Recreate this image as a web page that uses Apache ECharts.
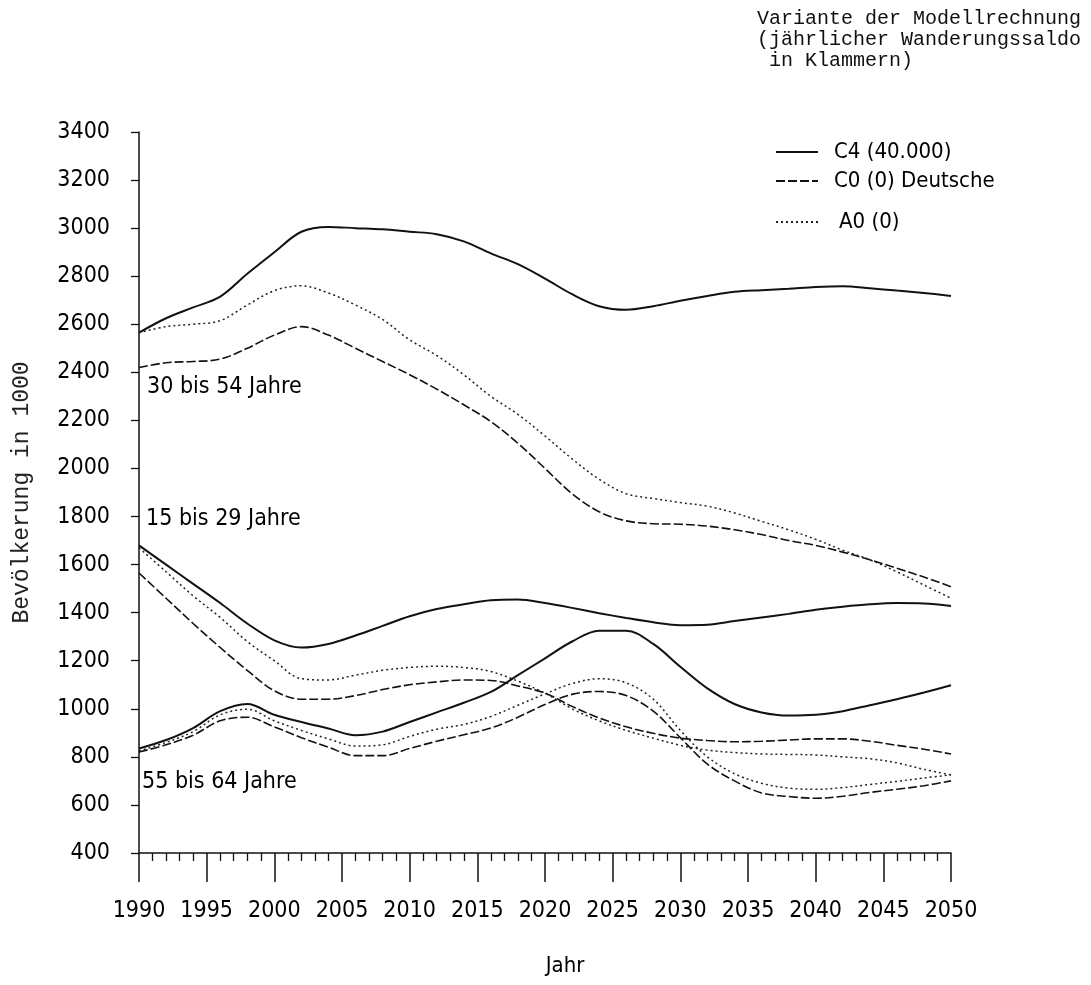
<!DOCTYPE html>
<html>
<head>
<meta charset="utf-8">
<script src="https://cdn.jsdelivr.net/npm/echarts@6/dist/echarts.min.js"></script>
<style>html,body{margin:0;padding:0;background:#fff;}#c{width:1091px;height:985px;}</style>
</head>
<body>
<div id="c"></div>
<script>
const years = [1990,1992,1994,1996,1998,2000,2002,2004,2006,2008,2010,2012,2014,2016,2018,2020,2022,2024,2026,2028,2030,2032,2034,2036,2038,2040,2042,2044,2046,2048,2050];
const yTicks = [400,600,800,1000,1200,1400,1600,1800,2000,2200,2400,2600,2800,3000,3200,3400];
const variants = ['C4 (40.000)', 'C0 (0) Deutsche', 'A0 (0)'];
const groups = ['30 bis 54 Jahre', '15 bis 29 Jahre', '55 bis 64 Jahre'];

// 30 bis 54 Jahre
const a30_C4 = [2565,2625,2670,2715,2810,2900,2985,3005,3000,2995,2985,2975,2945,2895,2850,2790,2725,2675,2660,2675,2698,2718,2735,2742,2748,2755,2758,2750,2740,2730,2718];
const a30_C0 = [2420,2440,2445,2455,2500,2555,2590,2555,2500,2445,2390,2330,2265,2195,2105,2000,1895,1820,1782,1770,1768,1760,1745,1725,1700,1680,1652,1620,1585,1548,1508];
const a30_A0 = [2565,2590,2600,2615,2680,2740,2760,2730,2680,2620,2535,2470,2390,2300,2225,2135,2040,1955,1895,1875,1858,1843,1815,1780,1745,1705,1660,1620,1570,1515,1460];
// 15 bis 29 Jahre
const a15_C4 = [1680,1600,1520,1440,1355,1285,1255,1270,1305,1345,1385,1415,1435,1452,1455,1440,1420,1398,1378,1360,1348,1350,1365,1380,1395,1412,1425,1435,1440,1438,1428];
const a15_C0 = [1565,1460,1355,1255,1160,1075,1040,1040,1055,1080,1100,1112,1120,1118,1095,1065,1010,962,925,898,878,868,863,865,870,875,875,865,848,832,812];
const a15_A0 = [1670,1570,1470,1380,1280,1200,1125,1120,1140,1160,1172,1177,1172,1155,1115,1065,1000,950,910,878,848,828,818,812,810,808,800,792,775,748,725];
// 55 bis 64 Jahre
const a55_C4 = [835,870,920,990,1020,975,945,918,890,905,945,985,1025,1070,1140,1210,1280,1325,1325,1270,1175,1085,1020,985,972,975,990,1015,1040,1068,1098];
const a55_C0 = [820,850,890,950,965,925,880,840,805,805,835,865,892,920,965,1018,1060,1072,1055,990,880,770,700,650,635,628,636,652,665,680,700];
const a55_A0 = [825,860,905,975,998,950,910,875,845,850,885,915,935,968,1015,1062,1105,1125,1108,1040,910,800,730,690,670,665,672,685,698,712,725];

const lineStyles = {
  'C4 (40.000)': {color:'#111', width:2, type:'solid'},
  'C0 (0) Deutsche': {color:'#111', width:1.6, type:[9,3]},
  'A0 (0)': {color:'#222', width:1.5, type:[2,3]}
};
function mk(name, vals){
  return {
    name: name, type:'line', smooth:0.35, symbol:'none', showSymbol:false,
    lineStyle: lineStyles[name], itemStyle:{color:'#111'},
    data: years.map((y,i)=>[y, vals[i]])
  };
}
const narrow = '"DejaVu Sans Condensed","Liberation Sans Narrow",sans-serif';
const mono = '"Liberation Mono","DejaVu Sans Mono",monospace';
const legendBase = {left:775, padding:0, itemWidth:42, itemHeight:14,
  itemStyle:{opacity:0, borderWidth:0}, textStyle:{fontFamily:narrow, fontSize:22, color:'#000', padding:[0,0,0,11]}};
const chart = echarts.init(document.getElementById('c'));
chart.setOption({
  animation:false,
  backgroundColor:'#fff',
  title:{
    text:'Variante der Modellrechnung\n(jährlicher Wanderungssaldo\n in Klammern)',
    left:752, top:3,
    textStyle:{fontFamily:mono, fontSize:20, fontWeight:'normal', color:'#111', lineHeight:21}
  },
  legend:[
    Object.assign({}, legendBase, {data:[variants[0]], top:141}),
    Object.assign({}, legendBase, {data:[variants[1]], top:170}),
    Object.assign({}, legendBase, {data:[variants[2]], top:211, textStyle:{fontFamily:narrow, fontSize:22, color:'#000', padding:[0,0,0,16]}})
  ],
  grid:{left:139, right:140, top:132, bottom:132},
  xAxis:{
    type:'value', min:1990, max:2050, interval:5,
    name:'Jahr', nameLocation:'middle', nameGap:102,
    nameTextStyle:{fontFamily:narrow, fontSize:22, color:'#000', padding:[0,0,0,40]},
    axisLine:{lineStyle:{color:'#111', width:1.5}},
    axisTick:{length:29, lineStyle:{color:'#111', width:1.5}},
    minorTick:{show:true, splitNumber:5, length:8, lineStyle:{color:'#111', width:1.3}},
    axisLabel:{margin:47, fontFamily:narrow, fontSize:23, color:'#000', formatter:v=>String(v)},
    splitLine:{show:false}
  },
  yAxis:{
    type:'value', min:yTicks[0], max:yTicks[yTicks.length-1], interval:200,
    name:'Bevölkerung in 1000', nameLocation:'middle', nameGap:106, nameRotate:90,
    nameTextStyle:{fontFamily:mono, fontSize:23, color:'#222'},
    axisLine:{show:true, lineStyle:{color:'#111', width:1.5}},
    axisTick:{show:true, length:8, lineStyle:{color:'#111', width:1.3}},
    axisLabel:{margin:29, fontFamily:narrow, fontSize:23, color:'#000', formatter:v=>String(v)},
    splitLine:{show:false}
  },
  graphic:[
    {type:'text', left:147, top:376, style:{text:groups[0], font:'23px '+narrow, fill:'#000'}},
    {type:'text', left:146, top:508, style:{text:groups[1], font:'23px '+narrow, fill:'#000'}},
    {type:'text', left:142, top:771, style:{text:groups[2], font:'23px '+narrow, fill:'#000'}}
  ],
  series:[
    mk(variants[0], a30_C4), mk(variants[1], a30_C0), mk(variants[2], a30_A0),
    mk(variants[0], a15_C4), mk(variants[1], a15_C0), mk(variants[2], a15_A0),
    mk(variants[0], a55_C4), mk(variants[1], a55_C0), mk(variants[2], a55_A0)
  ]
});
</script>
</body>
</html>
